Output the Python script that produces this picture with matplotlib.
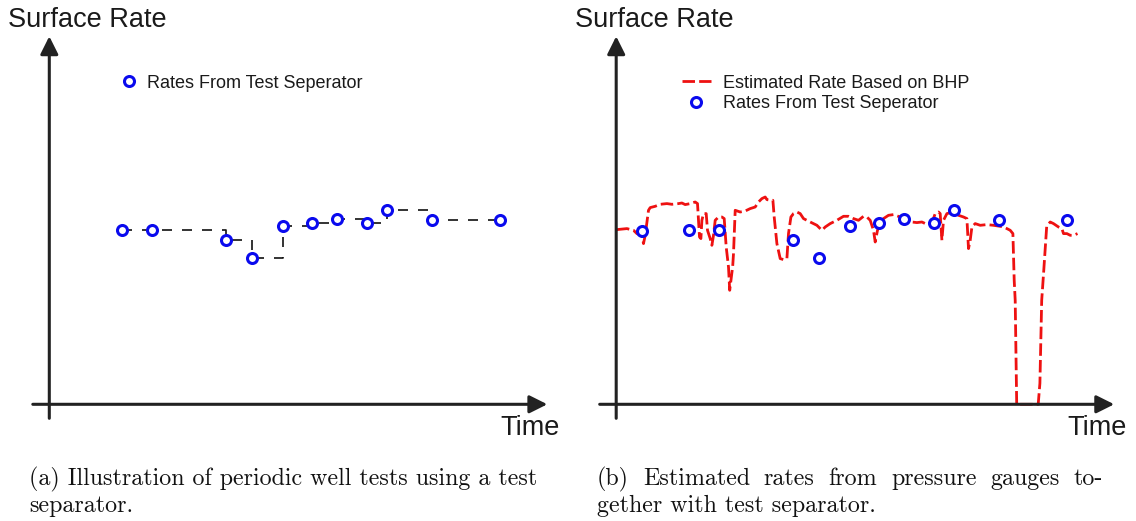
import matplotlib.pyplot as plt
import numpy as np

plt.rcParams['font.family'] = ['Liberation Sans', 'DejaVu Sans']

# well test points (time, rate) - arbitrary units
test_time = [26, 73, 103, 177, 203, 234, 263, 288, 318, 338, 383, 451]
test_rate = [173, 174, 174, 164, 146, 178, 181, 185, 181, 194, 184, 184]

# rate estimated from bottom hole pressure
est_time = [0.7, 10.7, 17.3, 20.7, 25.7, 27.3, 29, 32.3, 34, 39, 44, 50.7, 55.7,
            62.3, 65.7, 69, 74, 79, 81.3, 83.3, 84.7, 85.7, 87.3, 90, 91.3, 94,
            95.7, 97.3, 99, 102.3, 105.7, 108, 110, 112.3, 113.5, 116.5, 117.3,
            119, 124, 129, 134, 139, 142.3, 145.7, 149, 150.7, 154, 156.7, 158,
            160.7, 164, 167.3, 170.7, 172.3, 174.7, 177.3, 180.7, 184, 187.3,
            194, 200.7, 205.7, 209, 214, 220.7, 227.3, 232.3, 237.3, 242.3,
            247.3, 250.7, 254, 257.3, 259, 261.3, 264, 267.3, 272.3, 277.3, 284,
            290.7, 295.7, 300.7, 305.7, 310.7, 315.7, 319, 322.3, 324, 325.7,
            327.3, 330.7, 337.3, 342.3, 347.3, 350.7, 352.3, 354, 355.7, 359,
            364, 370.7, 377.3, 384, 387.3, 390.7, 394, 396.7, 398, 399, 400.5,
            422, 423.7, 425.5, 427.3, 430.5, 434, 437.3, 442.3, 445.7, 447.3,
            450.7, 454, 457.3, 461.3]
est_rate = [174.7, 175.7, 174, 170.7, 169, 160.7, 169, 194, 196.7, 198, 200,
            200.7, 200, 200.7, 201.3, 199.7, 200.7, 202.3, 200.7, 167.3, 165.7,
            184, 190.7, 190.7, 174, 165.7, 159, 169, 184, 187.3, 187.3, 185.7,
            157.3, 137.3, 114, 138, 150.7, 194, 192.3, 193.3, 195.7, 197.3,
            202.3, 205.7, 207.3, 204.7, 204, 204, 187.3, 160.7, 145.7, 144.7,
            145.7, 170.7, 187.3, 190.7, 192.3, 190.7, 185.7, 182.3, 179, 174,
            177.3, 180.7, 184, 188, 188, 185.7, 184, 188, 187.3, 184, 174, 162.3,
            174, 180.7, 185.7, 189, 189.7, 187.3, 184.7, 182.3, 181.7, 182.3,
            180, 181.3, 190.7, 192.3, 190.7, 164, 184, 190.7, 192.3, 189, 187.3,
            185.7, 155.7, 164, 177.3, 180.7, 179, 179.7, 179, 178, 177.3, 175.7,
            174, 170.7, 124, 104, 0, 0, 21, 104, 130, 178, 182.3, 180.7, 177.3,
            175.7, 170.7, 170.7, 169, 169, 170.7]

cap_a = ['(a) Illustration of periodic well tests using a test', 'separator.']
cap_b = ['(b) Estimated rates from pressure gauges to-', 'gether with test separator.']

W, H = 1136, 521
fig = plt.figure(figsize=(W / 100, H / 100), dpi=100)
axcol = '#222222'
txtcol = '#1a1a1a'


def panel(x0, y0):
    ax = fig.add_axes([(x0 - 20) / W, (H - y0 - 20) / H, 520 / W, 392 / H])
    ax.set_xlim(-20, 500)
    ax.set_ylim(-20, 372)
    ax.axis('off')
    ap = dict(arrowstyle='-|>,head_length=0.6,head_width=0.3', lw=2.2,
              color=axcol, mutation_scale=18, shrinkA=0, shrinkB=0)
    ax.annotate('', xy=(498, 0), xytext=(-16.5, 0), arrowprops=ap, zorder=5)
    ax.annotate('', xy=(0, 368), xytext=(0, -14), arrowprops=ap, zorder=5)
    ax.text(-41, 377.5, 'Surface Rate', fontsize=19.5, color=txtcol, va='baseline')
    ax.text(451.5, -30.7, 'Time', fontsize=19.5, color=txtcol, va='baseline')
    return ax


mk = dict(ls='none', marker='o', ms=7.2, mew=2.2, mec='#0a0aee', mfc='white', zorder=4)

# (a)
ax1 = panel(49.3, 404.3)
ax1.plot(test_time[1:], test_rate[1:], drawstyle='steps-post', color='#111111',
         lw=1.2, dashes=(6, 6), zorder=2)
h1, = ax1.plot(test_time[1:], test_rate[1:], label='Rates From Test Seperator', **mk)
ax1.legend(handles=[h1], loc='upper left', frameon=False, fontsize=13,
           bbox_to_anchor=(123.6 / W, 1 - 74.5 / H), bbox_transform=fig.transFigure,
           borderpad=0, borderaxespad=0, handlelength=0.6, handletextpad=0.7,
           numpoints=1, labelcolor=txtcol)

# (b)
ax2 = panel(616.2, 404.3)
h2, = ax2.plot(est_time, est_rate, color='#ee1111', lw=2, dashes=(4.5, 1.5),
               label='Estimated Rate Based on BHP', zorder=3)
h3, = ax2.plot(test_time, test_rate, label='Rates From Test Seperator', **mk)
ax2.legend(handles=[h2, h3], loc='upper left', frameon=False, fontsize=13,
           bbox_to_anchor=(681.7 / W, 1 - 74.5 / H), bbox_transform=fig.transFigure,
           borderpad=0, borderaxespad=0, handlelength=1.6, handletextpad=0.7,
           labelspacing=0.22, numpoints=1, labelcolor=txtcol)

# captions in computer modern
r = fig.canvas.get_renderer()
probe = fig.text(0, 0, cap_a[0], fontfamily='cmr10', fontsize=10)
csize = 10 * 508 / probe.get_window_extent(r).width
probe.remove()

cap_kw = dict(fontfamily='cmr10', fontsize=csize, color='#111111', va='baseline')
fig.text(29 / W, 1 - 485 / H, cap_a[0], **cap_kw)
fig.text(29 / W, 1 - 512 / H, cap_a[1], **cap_kw)

# justified first line of (b)
words = cap_b[0].split()
wt = [fig.text(0, 1 - 485 / H, w, **cap_kw) for w in words]
widths = [t.get_window_extent(r).width for t in wt]
gap = (1103 - 597 - sum(widths)) / (len(words) - 1)
xpos = 597
for t, w in zip(wt, widths):
    t.set_x(xpos / W)
    xpos += w + gap
fig.text(597 / W, 1 - 512 / H, cap_b[1], **cap_kw)

fig.savefig('out.png', dpi=100)
